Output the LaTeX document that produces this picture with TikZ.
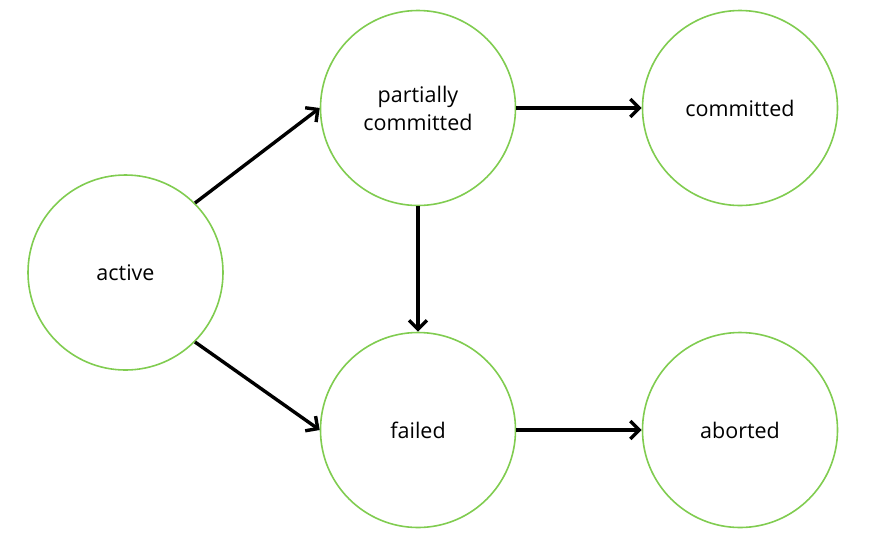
\documentclass[tikz,border=0pt]{standalone}
\usepackage{fontspec}
\setmainfont{Open Sans}
\usetikzlibrary{arrows.meta}
\definecolor{stgreen}{RGB}{128,204,80}
\tikzset{
  state/.style={circle, draw=stgreen, line width=1.6pt, minimum size=195pt, inner sep=0pt, align=center, font=\fontsize{21.5}{28}\selectfont},
  flow/.style={line width=3.4pt, -{Straight Barb[length=9pt,width=18pt,line width=3.4pt]}}
}
\begin{document}
\begin{tikzpicture}[x=1pt,y=-1pt]
\useasboundingbox (0,0) rectangle (877,539);
\node[state] (active) at (125.5,272.5) {active};
\node[state] (pc) at (418,108) {partially\\committed};
\node[state] (comm) at (740,108) {committed};
\node[state] (failed) at (418,430) {failed};
\node[state] (abort) at (740,430) {aborted};
\draw[flow] (active.45) -- (pc.west);
\draw[flow] (active.-45) -- (failed.west);
\draw[flow] (pc.south) -- (failed.north);
\draw[flow] (pc.east) -- (comm.west);
\draw[flow] (failed.east) -- (abort.west);
\end{tikzpicture}
\end{document}
